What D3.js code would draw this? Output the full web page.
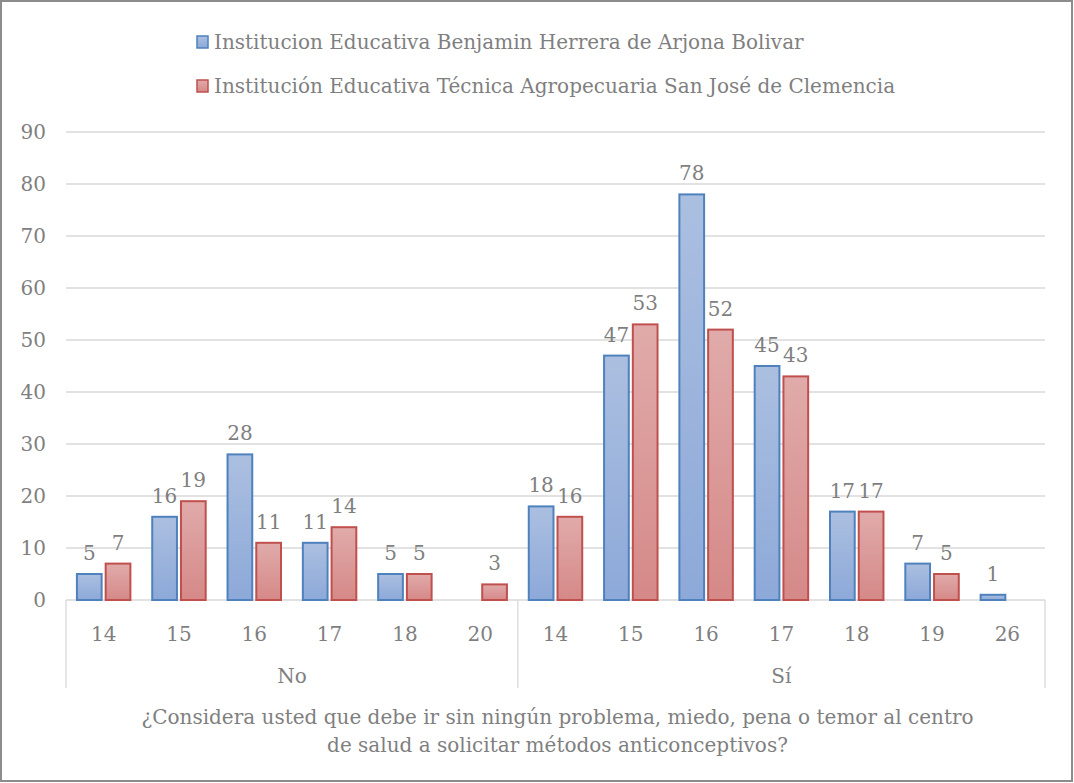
<!DOCTYPE html>
<html><head><meta charset="utf-8">
<script src="https://cdn.jsdelivr.net/npm/d3@7"></script>
<style>body{margin:0;background:#fff}svg{display:block}</style>
</head><body>
<script>
const groups = ["No", "Sí"];
const ages = [["14","15","16","17","18","20"],["14","15","16","17","18","19","26"]];
const seriesNames = ["Institucion Educativa Benjamin Herrera de Arjona Bolivar",
                     "Institución Educativa Técnica Agropecuaria San José de Clemencia"];
const benjamin = [5,16,28,11,5,null, 18,47,78,45,17,7,1];
const clemencia = [7,19,11,14,5,3, 16,53,52,43,17,5,null];
const yTicks = [0,10,20,30,40,50,60,70,80,90];
const titleLines = ["¿Considera usted que debe ir sin ningún problema, miedo, pena o temor al centro",
                    "de salud a solicitar métodos anticonceptivos?"];

const W=1074,H=783;
const FONT="'DejaVu Serif', serif", GRAY="#7f7f7f";
const m={l:66,r:1045,t:132,b:600};
const svg=d3.select("body").append("svg").attr("width",W).attr("height",H)
  .style("font-family",FONT);

// fit font size so that the first legend line has the reference width (~591px)
const probe=svg.append("text").attr("font-size",22).text(seriesNames[0]);
const FS=Math.round(22*591/probe.node().getComputedTextLength()*10)/10;
probe.remove();

const defs=svg.append("defs");
[["gb","#abbfe0","#8da9d9"],["gr","#e0abaa","#d58988"]].forEach(([id,c1,c2])=>{
  const g=defs.append("linearGradient").attr("id",id).attr("x1",0).attr("y1",0).attr("x2",0).attr("y2",1);
  g.append("stop").attr("offset","0%").attr("stop-color",c1);
  g.append("stop").attr("offset","100%").attr("stop-color",c2);
});

svg.append("rect").attr("x",1).attr("y",1).attr("width",W-3).attr("height",H-3)
  .attr("fill","#fff").attr("stroke","#8c8c8c").attr("stroke-width",2);

const cats=[];
ages.forEach((a,gi)=>a.forEach(v=>cats.push({g:gi,age:v,key:gi+"-"+v})));
const x=d3.scaleBand().domain(cats.map(c=>c.key)).range([m.l,m.r]).paddingInner(0).paddingOuter(0);
const y=d3.scaleLinear().domain([0,90]).range([m.b,m.t]);
const xs=d3.scaleBand().domain([0,1]).range([0,x.bandwidth()]).paddingInner(0.14).paddingOuter(0.38);

svg.append("g").selectAll("line").data(yTicks.slice(1)).join("line")
  .attr("x1",m.l).attr("x2",m.r).attr("y1",d=>y(d)).attr("y2",d=>y(d))
  .attr("stroke","#d9d9d9").attr("stroke-width",1.3);

const ya=svg.append("g").attr("transform",`translate(${m.l-20},0)`)
  .call(d3.axisLeft(y).tickValues(yTicks).tickSize(0).tickPadding(0));
ya.select(".domain").remove();
ya.selectAll("text").attr("font-family",FONT).attr("font-size",FS).attr("fill",GRAY).attr("dy","0.33em");

const ax=svg.append("g").attr("stroke","#d9d9d9").attr("stroke-width",1.3);
ax.append("line").attr("x1",m.l).attr("x2",m.r).attr("y1",m.b).attr("y2",m.b);
const divs=[m.l, x(cats[ages[0].length].key), m.r];
divs.forEach(d=>ax.append("line").attr("x1",d).attr("x2",d).attr("y1",m.b).attr("y2",688));

const xa=svg.append("g").attr("transform",`translate(0,${m.b})`)
  .call(d3.axisBottom(x).tickFormat(k=>k.split("-")[1]).tickSize(0).tickPadding(0));
xa.select(".domain").remove();
xa.selectAll("text").attr("font-family",FONT).attr("font-size",FS).attr("fill",GRAY).attr("dy","0").attr("y",41);

groups.forEach((g,gi)=>{
  svg.append("text").attr("x",(divs[gi]+divs[gi+1])/2).attr("y",683).attr("text-anchor","middle")
    .attr("font-size",FS).attr("fill",GRAY).text(g);
});

const series=[{vals:benjamin,fill:"url(#gb)",stroke:"#4f81bd"},{vals:clemencia,fill:"url(#gr)",stroke:"#c0504d"}];
series.forEach((s,si)=>{
  const data=cats.map((c,i)=>({c,v:s.vals[i]})).filter(d=>d.v!=null);
  const g=svg.append("g");
  g.selectAll("rect").data(data).join("rect")
    .attr("x",d=>x(d.c.key)+xs(si)).attr("width",xs.bandwidth())
    .attr("y",d=>y(d.v)).attr("height",d=>y(0)-y(d.v))
    .attr("fill",s.fill).attr("stroke",s.stroke).attr("stroke-width",2);
  g.selectAll("text").data(data).join("text")
    .attr("x",d=>x(d.c.key)+xs(si)+xs.bandwidth()/2).attr("y",d=>y(d.v)-14)
    .attr("text-anchor","middle").attr("font-size",FS).attr("fill",GRAY).text(d=>d.v);
});

seriesNames.forEach((n,i)=>{
  const ly=42+i*44;
  svg.append("rect").attr("x",197).attr("y",ly-6).attr("width",11).attr("height",12)
    .attr("fill",series[i].fill).attr("stroke",series[i].stroke).attr("stroke-width",1.5);
  svg.append("text").attr("x",214).attr("y",ly).attr("dy","0.35em").attr("font-size",FS).attr("fill",GRAY).text(n);
});

titleLines.forEach((t,i)=>{
  svg.append("text").attr("x",(m.l+m.r)/2+2).attr("y",724+i*28).attr("text-anchor","middle")
    .attr("font-size",FS).attr("fill",GRAY).text(t);
});
</script>
</body></html>
